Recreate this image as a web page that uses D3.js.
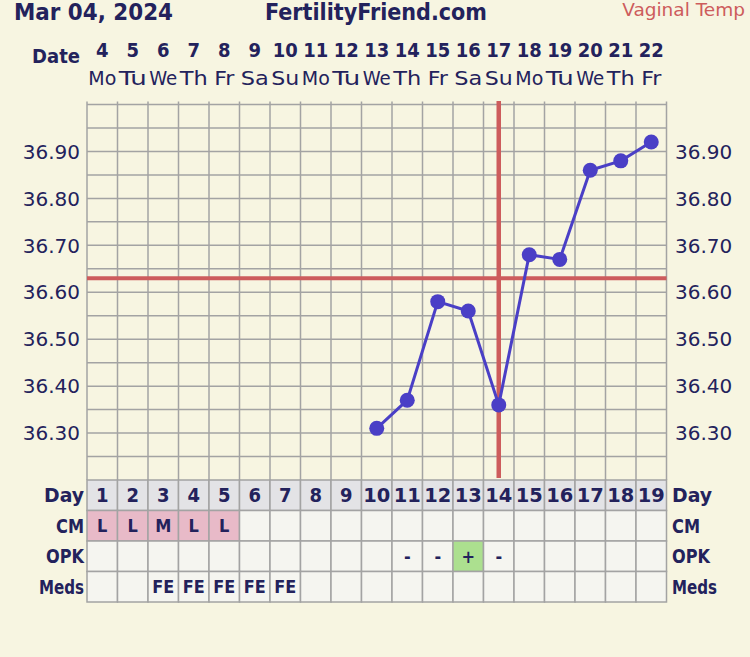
<!DOCTYPE html>
<html>
<head>
<meta charset="utf-8">
<script src="https://cdn.jsdelivr.net/npm/d3@7"></script>
<style>
body { margin: 0; background: #f7f5e1; }
text { fill: #23225c; }
.bold { font-family: "DejaVu Sans Condensed", "DejaVu Sans", sans-serif; font-weight: bold; }
.reg { font-family: "DejaVu Sans", Verdana, sans-serif; }
.cond { font-family: "DejaVu Sans Condensed", "DejaVu Sans", sans-serif; }
</style>
</head>
<body>
<script>
var chartDate = "Mar 04, 2024",
	siteName = "FertilityFriend.com",
	tempMethod = "Vaginal Temp",
	dates = [4, 5, 6, 7, 8, 9, 10, 11, 12, 13, 14, 15, 16, 17, 18, 19, 20, 21, 22],
	weekdays = ["Mo", "Tu", "We", "Th", "Fr", "Sa", "Su", "Mo", "Tu", "We",
		"Th", "Fr", "Sa", "Su", "Mo", "Tu", "We", "Th", "Fr"],
	cycleDays = [1, 2, 3, 4, 5, 6, 7, 8, 9, 10, 11, 12, 13, 14, 15, 16, 17, 18, 19],
	temps = [null, null, null, null, null, null, null, null, null,
		36.31, 36.37, 36.58, 36.56, 36.36, 36.68, 36.67, 36.86, 36.88, 36.92],
	cm = ["L", "L", "M", "L", "L", "", "", "", "", "", "", "", "", "", "", "", "", "", ""],
	opk = ["", "", "", "", "", "", "", "", "", "", "-", "-", "+", "-", "", "", "", "", ""],
	meds = ["", "", "FE", "FE", "FE", "FE", "FE", "", "", "", "", "", "", "", "", "", "", "", ""],
	tempTicks = [36.30, 36.40, 36.50, 36.60, 36.70, 36.80, 36.90],
	coverline = 36.63,
	ovulationDay = 14;

var width = 750,
	height = 657,
	lPad = 87,
	rPad = 83.5,
	tTop = 104.5,
	tBot = 480,
	rowH = 30.5,
	gridColor = "#a3a3a3";

var xScale = d3.scaleBand()
	.domain(cycleDays)
	.range([lPad, width - rPad]);
var yScale = d3.scaleLinear()
	.domain([36.20, 37.00])
	.range([tBot, tTop]);
var cx = function(d) { return xScale(d) + xScale.bandwidth() / 2; };

var svg = d3.select("body").append("svg")
	.attr("width", width)
	.attr("height", height);

svg.append("rect")
	.attr("width", width).attr("height", height)
	.attr("fill", "#f7f5e1");

// header
svg.append("text").attr("class", "bold")
	.attr("x", 14).attr("y", 20)
	.attr("font-size", 23)
	.attr("textLength", 159).attr("lengthAdjust", "spacingAndGlyphs")
	.text(chartDate);
svg.append("text").attr("class", "bold")
	.attr("x", 265).attr("y", 20)
	.attr("font-size", 23)
	.attr("textLength", 222).attr("lengthAdjust", "spacingAndGlyphs")
	.text(siteName);
svg.append("text").attr("class", "reg")
	.attr("x", 745).attr("y", 16)
	.attr("font-size", 18.5)
	.attr("text-anchor", "end")
	.style("fill", "#cd5c5c")
	.text(tempMethod);

// date row
svg.append("text").attr("class", "bold")
	.attr("x", 80).attr("y", 63)
	.attr("font-size", 20)
	.attr("text-anchor", "end")
	.text("Date");
cycleDays.forEach(function(d, i) {
	svg.append("text").attr("class", "bold")
		.attr("x", cx(d)).attr("y", 57)
		.attr("font-size", 20)
		.attr("text-anchor", "middle")
		.attr("textLength", dates[i] > 9 ? 25 : null)
		.attr("lengthAdjust", "spacingAndGlyphs")
		.text(dates[i]);
	svg.append("text").attr("class", "cond")
		.attr("x", cx(d)).attr("y", 85)
		.attr("font-size", 19)
		.attr("text-anchor", "middle")
		.attr("textLength", weekdays[i] == "Fr" ? 20 : 28)
		.attr("lengthAdjust", "spacingAndGlyphs")
		.text(weekdays[i]);
});

// temperature grid
var g = svg.append("g");
d3.range(36.25, 37.001, 0.05).forEach(function(t) {
	g.append("line")
		.attr("x1", lPad).attr("x2", width - rPad)
		.attr("y1", yScale(t)).attr("y2", yScale(t))
		.attr("stroke", gridColor).attr("stroke-width", 1.5);
});
cycleDays.concat([20]).forEach(function(d, i) {
	var x = lPad + i * xScale.bandwidth();
	g.append("line")
		.attr("x1", x).attr("x2", x)
		.attr("y1", 101.5).attr("y2", tBot)
		.attr("stroke", gridColor).attr("stroke-width", 1.5);
});

// axis labels both sides
tempTicks.forEach(function(t) {
	svg.append("text").attr("class", "reg")
		.attr("x", 80).attr("y", yScale(t)).attr("dy", "0.36em")
		.attr("font-size", 20)
		.attr("text-anchor", "end")
		.text(t.toFixed(2));
	svg.append("text").attr("class", "reg")
		.attr("x", 675).attr("y", yScale(t)).attr("dy", "0.36em")
		.attr("font-size", 20)
		.text(t.toFixed(2));
});

// coverline and ovulation line
svg.append("line")
	.attr("x1", lPad).attr("x2", width - rPad)
	.attr("y1", yScale(coverline)).attr("y2", yScale(coverline))
	.attr("stroke", "#cd5c5c").attr("stroke-width", 4);
svg.append("line")
	.attr("x1", cx(ovulationDay)).attr("x2", cx(ovulationDay))
	.attr("y1", 101).attr("y2", 478)
	.attr("stroke", "#cd5c5c").attr("stroke-width", 4.5);

// temperature line
var pts = [];
temps.forEach(function(t, i) {
	if (t !== null) pts.push({ day: cycleDays[i], temp: t });
});
svg.append("path")
	.datum(pts)
	.attr("fill", "none")
	.attr("stroke", "#4a3fc6")
	.attr("stroke-width", 3)
	.attr("d", d3.line()
		.x(function(d) { return cx(d.day); })
		.y(function(d) { return yScale(d.temp); }));
svg.selectAll("circle.temp")
	.data(pts)
	.enter().append("circle")
	.attr("class", "temp")
	.attr("cx", function(d) { return cx(d.day); })
	.attr("cy", function(d) { return yScale(d.temp); })
	.attr("r", 7.5)
	.attr("fill", "#4a3fc6");

// bottom table
var rows = [
	{ name: "Day", vals: cycleDays },
	{ name: "CM", vals: cm },
	{ name: "OPK", vals: opk },
	{ name: "Meds", vals: meds }
];
rows.forEach(function(r, ri) {
	var y0 = tBot + ri * rowH;
	cycleDays.forEach(function(d, i) {
		var v = r.vals[i],
			fill = "#f5f5f0";
		if (ri == 0) fill = "#e3e3e6";
		if (r.name == "CM" && v !== "") fill = "#e8bac8";
		if (r.name == "OPK" && v == "+") fill = "#ace08f";
		svg.append("rect")
			.attr("x", xScale(d)).attr("y", y0)
			.attr("width", xScale.bandwidth()).attr("height", rowH)
			.attr("fill", fill)
			.attr("stroke", gridColor).attr("stroke-width", 1.5);
		if (v !== "") {
			svg.append("text").attr("class", "bold")
				.attr("x", cx(d)).attr("y", y0 + rowH / 2).attr("dy", "0.36em")
				.attr("font-size", ri == 0 ? 20 : 18)
				.attr("text-anchor", "middle")
				.attr("textLength", (ri == 0 && v > 9) ? 27 : (v == "FE" ? 22 : null))
				.attr("lengthAdjust", "spacingAndGlyphs")
				.text(v);
		}
	});
	var lw = { "Day": 40, "CM": 28, "OPK": 38, "Meds": 45 }[r.name];
	svg.append("text").attr("class", "bold")
		.attr("x", 84).attr("y", y0 + rowH / 2).attr("dy", "0.36em")
		.attr("font-size", 20)
		.attr("text-anchor", "end")
		.attr("textLength", lw).attr("lengthAdjust", "spacingAndGlyphs")
		.text(r.name);
	svg.append("text").attr("class", "bold")
		.attr("x", 672).attr("y", y0 + rowH / 2).attr("dy", "0.36em")
		.attr("font-size", 20)
		.attr("textLength", lw).attr("lengthAdjust", "spacingAndGlyphs")
		.text(r.name);
});
</script>
</body>
</html>
